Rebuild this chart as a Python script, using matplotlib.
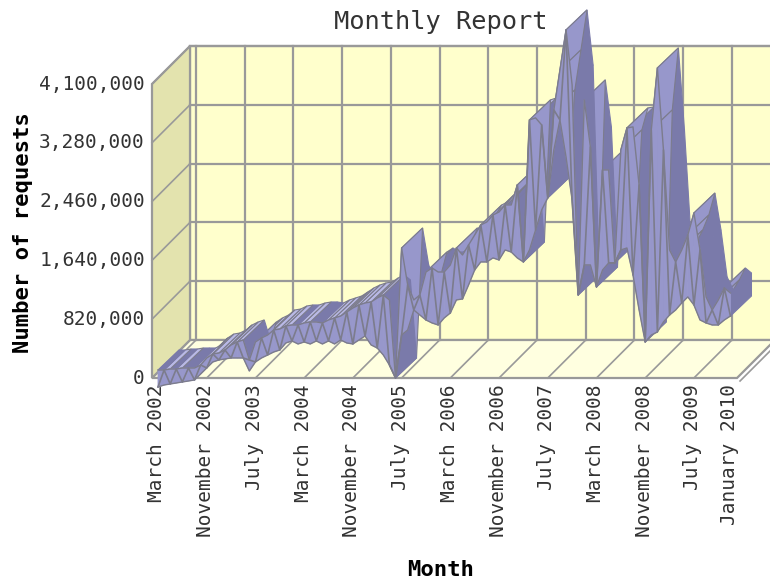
import matplotlib
matplotlib.use("Agg")
import matplotlib.pyplot as plt
from matplotlib.patches import Polygon
from matplotlib.transforms import Affine2D

months = ["March 2002", "November 2002", "July 2003", "March 2004", "November 2004",
          "July 2005", "March 2006", "November 2006", "July 2007", "March 2008",
          "November 2008", "July 2009", "January 2010"]
month_index = [0, 8, 16, 24, 32, 40, 48, 56, 64, 72, 80, 88, 94]
y_ticks = [0, 820000, 1640000, 2460000, 3280000, 4100000]
y_labels = ["0", "820,000", "1,640,000", "2,460,000", "3,280,000", "4,100,000"]

# thousands of requests, upper edge of the ribbon's front
upper = [237,237,251,251,265,265,265,307,405,460,474,516,586,628,656,377,628,684,725,795,
         809,851,865,865,893,907,907,893,935,963,990,1046,1102,1144,1172,1186,1242,1283,1214,126,
         1939,1423,1214,1283,1604,1660,1604,1604,1702,1939,1841,1981,2120,2260,2302,2399,2441,2539,2539,2818,
         1744,3725,3753,3655,2637,3864,4422,4980,4213,1283,4004,3348,1395,3027,3027,1730,3306,3613,3627,2818,
         628,3585,4450,3306,1911,1744,1911,2120,2427,1911,1256,1074,1214,1381,1311]
# thousands of requests, lower edge of the ribbon's front
lower = [0,28,42,56,70,84,98,181,265,349,377,391,405,405,405,223,349,405,446,488,
         516,614,642,600,628,600,642,600,642,600,656,614,600,656,711,586,544,446,307,126,
         725,795,1074,1004,935,893,865,963,1032,1214,1228,1423,1632,1744,1744,1800,1772,1911,1883,1800,
         1744,1911,2190,2469,2637,3306,3725,3209,2609,1283,1702,1702,1395,1632,1730,1730,1911,1939,1562,1074,
         628,725,767,907,1004,1074,1172,1256,1144,935,893,865,865,935,990]

W, H = 770, 581
DEPTH = 38
RIB_DX, RIB_DY = 21, 20
RIB_DROP = 9
MID, DARK, LIGHT = "#9797cb", "#7a7aaa", "#b9b9e6"
EDGE = "#7c7c8c"
GRID = "#999999"

fig = plt.figure(figsize=(W / 100, H / 100), dpi=100, facecolor="white")
ax = fig.add_axes([152 / W, 1 - 378 / H, 585 / W, 294 / H])
ax.axis("off")
PX = 585 / 96.06
ax.set_xlim(-6 / PX, -6 / PX + 585 / PX)
ax.set_ylim(0, 4100000)
x0, x1 = ax.get_xlim()

back = Affine2D().translate(DEPTH, DEPTH)
tb = ax.transData + back
trib = ax.transData + Affine2D().translate(0, -RIB_DROP)
tribb = ax.transData + Affine2D().translate(RIB_DX, RIB_DY - RIB_DROP)
top = 4100000
identity = matplotlib.transforms.IdentityTransform()

# walls and floor
ax.add_patch(Polygon([(x0, 0), (x1, 0), (x1, top), (x0, top)], closed=True, transform=tb,
                     fc="#ffffcc", ec=GRID, lw=1.6, clip_on=False, zorder=1))
floor_back = tb.transform([(x0, 0), (x1, 0)])
floor_front = ax.transData.transform([(x0, 0), (x1, 0)])
ax.add_patch(Polygon([floor_front[0], floor_front[1], floor_back[1], floor_back[0]], closed=True,
                     transform=identity, fc="#ffffe0", ec=GRID, lw=1.6, clip_on=False, zorder=1))
lb = tb.transform([(x0, 0), (x0, top)])
lf = ax.transData.transform([(x0, 0), (x0, top)])
ax.add_patch(Polygon([lf[0], lb[0], lb[1], lf[1]], closed=True, transform=identity,
                     fc="#e3e3ae", ec=GRID, lw=1.6, clip_on=False, zorder=1))
for v in y_ticks[1:]:
    ax.plot([x0, x1], [v, v], transform=tb, color=GRID, lw=1.6, zorder=2, clip_on=False)
    a = ax.transData.transform((x0, v)); b = tb.transform((x0, v))
    ax.plot([a[0], b[0]], [a[1], b[1]], transform=identity, color=GRID, lw=1.2, zorder=2, clip_on=False)
for m in month_index[:-1]:
    ax.plot([m, m], [0, top], transform=tb, color=GRID, lw=1.6, zorder=2, clip_on=False)
    a = ax.transData.transform((m, 0)); b = tb.transform((m, 0))
    ax.plot([a[0], b[0]], [a[1], b[1]], transform=identity, color=GRID, lw=1.2, zorder=2, clip_on=False)
a = ax.transData.transform((x1 + 0.5, 0)); b = tb.transform((x1 + 0.5, 0))
ax.plot([a[0], b[0]], [a[1] - 3, b[1] - 3], transform=identity, color=GRID, lw=1.2, zorder=2, clip_on=False)

# ribbon: back surface right-to-left, front strips above it
u = [v * 1000 for v in upper]
l = [v * 1000 for v in lower]
px_per = 294 / 4100000
z = 3.0
for i in range(len(u) - 2, -1, -1):
    pts_f = trib.transform([(i, u[i]), (i + 1, u[i + 1])])
    pts_b = tribb.transform([(i, u[i]), (i + 1, u[i + 1])])
    slope = (u[i + 1] - u[i]) * px_per / PX
    col = DARK if slope <= 0.05 else (LIGHT if slope < 1.0 else MID)
    ax.add_patch(Polygon([pts_f[0], pts_f[1], pts_b[1], pts_b[0]], closed=True, transform=identity,
                         fc=col, ec=EDGE if col != DARK else DARK, lw=0.8, clip_on=False, zorder=z))
    z += 0.001
z = 4.0
for i in range(len(u) - 2, -1, -1):
    pts_u = trib.transform([(i, u[i]), (i + 1, u[i + 1])])
    pts_l = trib.transform([(i, l[i]), (i + 1, l[i + 1])])
    ax.add_patch(Polygon([pts_l[0], pts_l[1], pts_u[1], pts_u[0]], closed=True, transform=identity,
                         fc=MID, ec=MID, lw=0.6, clip_on=False, zorder=z))
    z += 0.001
# zigzag creases across the strips, plus the outline of the lower and upper edges
zig = trib.transform([(i, u[i] if i % 2 else l[i]) for i in range(len(u))])
ax.plot(zig[:, 0], zig[:, 1], transform=identity, color=EDGE, lw=1.2, zorder=4.5, clip_on=False)
low_pts = trib.transform([(i, l[i]) for i in range(len(l))])
ax.plot(low_pts[:, 0], low_pts[:, 1], transform=identity, color=EDGE, lw=1.0, zorder=4.5, clip_on=False)
up_pts = trib.transform([(i, u[i]) for i in range(len(u))])
ax.plot(up_pts[:, 0], up_pts[:, 1], transform=identity, color=EDGE, lw=1.0, zorder=4.5, clip_on=False)

end_f = trib.transform([(94, u[94]), (94, l[94])])
end_b = tribb.transform([(94, u[94]), (94, l[94])])
ax.add_patch(Polygon([end_f[0], end_f[1], end_b[1], end_b[0]], closed=True, transform=identity,
                     fc=DARK, ec=DARK, lw=0.8, clip_on=False, zorder=3.9))

# text
FONT = "DejaVu Sans Mono"
for v, s in zip(y_ticks, y_labels):
    ax.annotate(s, (x0, v), xytext=(-7, 0), textcoords="offset pixels", ha="right", va="center",
                family=FONT, fontsize=14, color="#333333", annotation_clip=False)
for m, s in zip(month_index, months):
    ax.annotate(s, (m, 0), xytext=(-1, -6), textcoords="offset pixels", ha="center", va="top",
                rotation=90, family=FONT, fontsize=14, color="#333333", annotation_clip=False)
fig.text(441 / W, 1 - 22 / H, "Monthly Report", ha="center", va="center", family=FONT,
         fontsize=18.3, color="#333333")
fig.text(441 / W, 1 - 570 / H, "Month", ha="center", va="center", family=FONT,
         fontsize=16, fontweight="bold", color="black")
fig.text(23 / W, 1 - 233 / H, "Number of requests", ha="center", va="center", rotation=90,
         family=FONT, fontsize=16, fontweight="bold", color="black")

fig.savefig("out.png", dpi=100, facecolor="white")
